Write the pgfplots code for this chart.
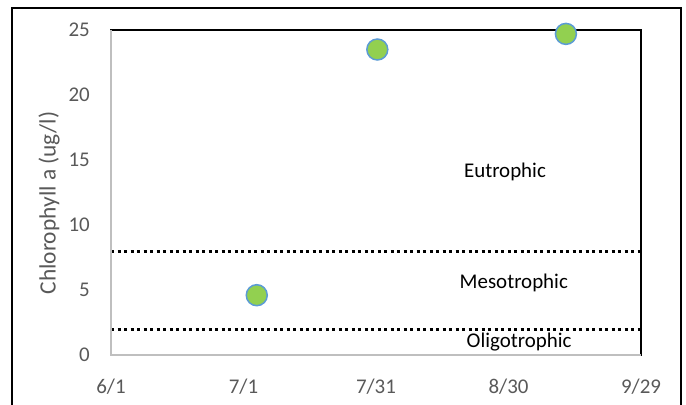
\documentclass[border=0pt]{standalone}
\usepackage{fontspec}
\setmainfont{Carlito}
\usepackage{pgfplots}
\pgfplotsset{compat=1.18}
\definecolor{tickgray}{HTML}{595959}
\definecolor{axgray}{HTML}{BFBFBF}
\definecolor{ptgreen}{HTML}{92D050}
\definecolor{ptblue}{HTML}{5B9BD5}
\begin{document}
\begin{tikzpicture}[x=1bp,y=1bp]
\begin{axis}[
  at={(111bp,49bp)}, anchor=south west,
  scale only axis, width=530bp, height=325bp,
  xmin=0, xmax=120, ymin=0, ymax=25,
  xtick={0,30,60,90,120}, xticklabels={6/1,7/1,7/31,8/30,9/29},
  ytick={0,5,10,15,20,25},
  tick style={draw=none},
  axis line style={black, line width=1.2bp},
  ticklabel style={font=\fontsize{21}{25}\selectfont, text=tickgray, inner sep=0pt},
  /pgf/number format/assume math mode=true,
  xticklabel style={anchor=base, yshift=-38.5bp},
  yticklabel style={anchor=east, xshift=-21bp},
  clip=false,
]
\addplot[black, line width=3bp, dash pattern=on 3bp off 3.5bp] coordinates {(0,8) (120,8)};
\addplot[black, line width=3bp, dash pattern=on 3bp off 3.5bp] coordinates {(0,2) (120,2)};
\draw[axgray, line width=2bp] (axis cs:0,25) -- (axis cs:0,0) -- (axis cs:120,0);
\addplot[only marks, mark=*, mark size=10.5bp, mark options={fill=ptgreen, draw=ptblue, line width=1.5bp}] coordinates {
(33,4.6) (60.3,23.5) (103,24.7)};
\node[font=\fontsize{21}{25}\selectfont] at (axis cs:89.2,14.1) {Eutrophic};
\node[font=\fontsize{21}{25}\selectfont] at (axis cs:91.2,5.54) {Mesotrophic};
\node[font=\fontsize{21}{25}\selectfont] at (axis cs:92.4,1.0) {Oligotrophic};
\end{axis}
\node[rotate=90, font=\fontsize{23.5}{28}\selectfont, text=tickgray] at (49,201) {Chlorophyll a (ug/l)};
\draw[black, line width=1.2bp] (12,-10) rectangle (681,396);
\pgfresetboundingbox
\useasboundingbox (0,0) rectangle (686,404);
\end{tikzpicture}
\end{document}
